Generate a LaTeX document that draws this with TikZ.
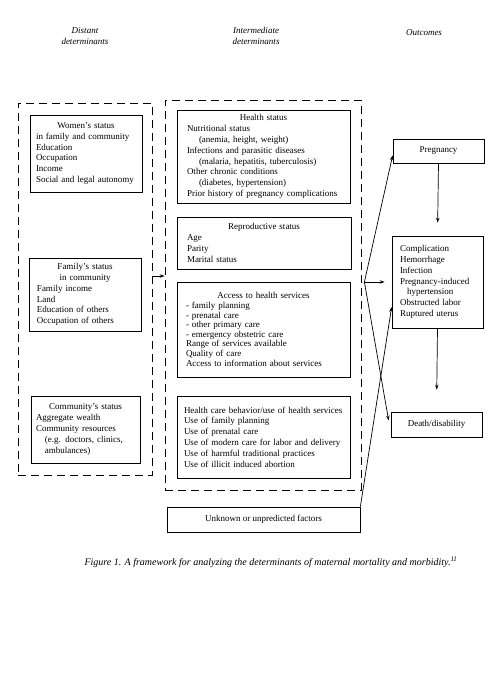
\documentclass[tikz,border=0pt]{standalone}
\usepackage{fontspec}
\setmainfont{Liberation Serif}
\usetikzlibrary{arrows.meta}
\newcommand{\boxtitle}[1]{\makebox[\linewidth]{#1}}
\tikzset{
  factor/.style={draw, line width=0.7pt, inner xsep=8pt, inner ysep=0pt, align=left,
    font=\fontsize{9}{10.8}\selectfont},
  group/.style={draw, dash pattern=on 8pt off 5pt, line width=0.8pt, inner sep=0pt},
  heading/.style={align=center, font=\fontsize{9}{11}\selectfont\itshape},
  link/.style={line width=0.7pt, -{Stealth[length=5pt,width=3.5pt]}}
}
\begin{document}
\begin{tikzpicture}[x=1pt,y=-1pt]
\useasboundingbox (0,0) rectangle (498,673);
\path node[heading] (distant) at (85,36) {Distant\\determinants}
node[heading] (interm) at (256,36) {Intermediate\\determinants}
node[heading] (outcomes) at (424,33) {Outcomes}
node[group, minimum width=134pt, minimum height=372pt] (dist) at (85,289) {}
node[group, minimum width=196pt, minimum height=390pt] (inter) at (263,295) {}
node[factor, inner xsep=6pt, text width=100pt, minimum height=77pt] (women) at (86,153.5)
  {\boxtitle{Women's status}\\in family and community\\Education\\Occupation\\Income\\Social and legal autonomy}
node[factor, text width=96pt, minimum height=73pt] (family) at (85,294.5)
  {\boxtitle{Family's status}\\\boxtitle{in community}\\Family income\\Land\\Education of others\\Occupation of others}
node[factor, inner xsep=5pt, text width=99pt, minimum height=67pt] (commun) at (85.5,429.5)
  {\boxtitle{Community's status}\\Aggregate wealth\\Community resources\\\hspace*{9pt}(e.g. doctors, clinics,\\\hspace*{9pt}ambulances)}
node[factor, inner xsep=10pt, text width=153pt, minimum height=93pt] (health) at (263.5,156.5)
  {\boxtitle{Health status}\\Nutritional status\\\hspace*{12pt}(anemia, height, weight)\\Infections and parasitic diseases\\\hspace*{12pt}(malaria, hepatitis, tuberculosis)\\Other chronic conditions\\\hspace*{12pt}(diabetes, hypertension)\\Prior history of pregnancy complications}
node[factor, inner xsep=10pt, text width=154pt, minimum height=52pt] (repro) at (264,243)
  {\boxtitle{Reproductive status}\\Age\\Parity\\Marital status}
node[factor, inner xsep=9pt, text width=155pt, minimum height=95pt, font=\fontsize{9}{9.6}\selectfont] (access) at (263.5,329.5)
  {\boxtitle{Access to health services}\\- family planning\\- prenatal care\\- other primary care\\- emergency obstetric care\\Range of services available\\Quality of care\\Access to information about services}
node[factor, inner xsep=7pt, text width=159pt, minimum height=82pt] (behav) at (263.5,437)
  {Health care behavior/use of health services\\Use of family planning\\Use of prenatal care\\Use of modern care for labor and delivery\\Use of harmful traditional practices\\Use of illicit induced abortion}
node[factor, align=center, minimum width=193pt, minimum height=25pt] (unk) at (263.5,519.5)
  {Unknown or unpredicted factors}
node[factor, align=center, minimum width=91pt, minimum height=24pt] (preg) at (438.5,151) {Pregnancy}
node[factor, text width=75pt, minimum height=92pt] (compl) at (437.5,282)
  {Complication\\Hemorrhage\\Infection\\Pregnancy-induced\\\hspace*{7pt}hypertension\\Obstructed labor\\Ruptured uterus}
node[factor, align=center, minimum width=91pt, minimum height=25pt] (death) at (436.5,424.5) {Death/disability}
node[font=\fontsize{10}{12}\selectfont\itshape] (caption) at (271,562)
  {Figure 1. A framework for analyzing the determinants of maternal mortality and morbidity.\textsuperscript{11}}
;
\coordinate (hub) at ([xshift=3pt]inter.east |- compl.west);
\draw[link] ([yshift=13pt]dist.east) -- ([yshift=13pt]dist.east -| inter.west);
\draw[link] (hub) -- ([yshift=8pt]preg.south west);
\draw[link, shorten >=7pt] (hub) -- (compl.west);
\draw[link] (hub) -- ([yshift=4pt,xshift=-2pt]death.west);
\draw[link] (unk.north east) -- ([yshift=-25pt]compl.west);
\draw[link, shorten >=13pt] (preg.south) -- (compl.north);
\draw[link, shorten >=22pt] (compl.south) -- (death.north);
\end{tikzpicture}
\end{document}
